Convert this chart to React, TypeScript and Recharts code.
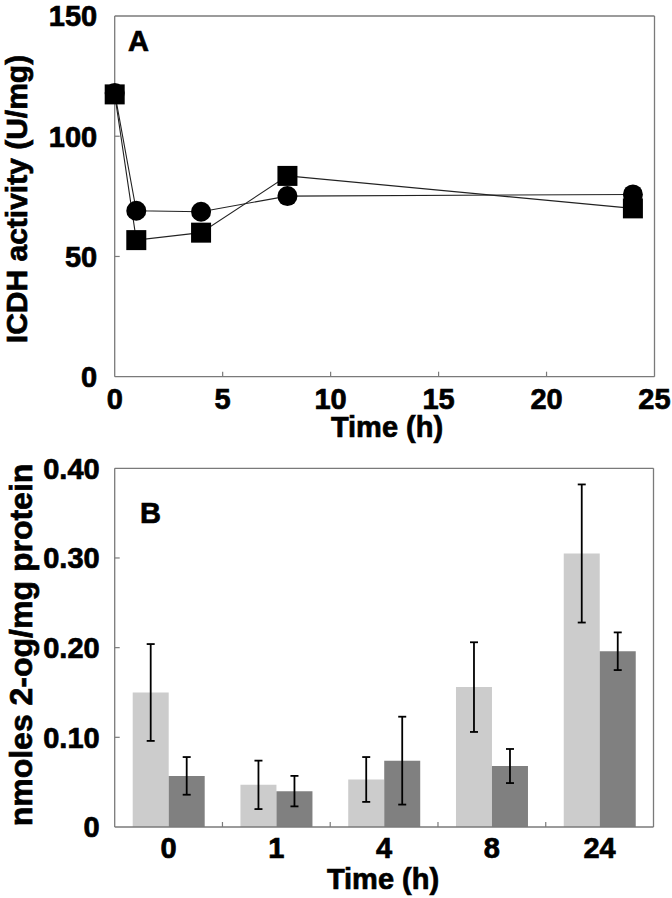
import React from 'react';
import { LineChart, Line, XAxis, YAxis, BarChart, Bar, ErrorBar, ReferenceLine } from 'recharts';

// ---------- Panel A data ----------
const timesA = [0, 1, 4, 8, 24];
const squareActivity = [117.4, 56.8, 59.9, 83.5, 70.0];
const circleActivity = [118.0, 69.0, 68.6, 75.1, 75.8];
const xTicksA = [0, 5, 10, 15, 20, 25];
const yTicksA = [0, 50, 100, 150];

// ---------- Panel B data ----------
const categoriesB = ['0', '1', '4', '8', '24'];
const lightValues = [0.150, 0.047, 0.053, 0.156, 0.305];
const lightErrors = [0.054, 0.027, 0.025, 0.050, 0.077];
const darkValues = [0.057, 0.040, 0.074, 0.068, 0.196];
const darkErrors = [0.021, 0.017, 0.049, 0.019, 0.021];
const yTicksB = [0, 0.1, 0.2, 0.3, 0.4];
const yTickLabelsB = ['0', '0.10', '0.20', '0.30', '0.40'];

const dataA = timesA.map((t, i) => ({ t, sq: squareActivity[i], ci: circleActivity[i] }));
const dataB = categoriesB.map((c, i) => ({
  cat: c,
  light: lightValues[i],
  lightErr: lightErrors[i],
  dark: darkValues[i],
  darkErr: darkErrors[i],
}));

const FONT = '"Liberation Sans", Arial, Helvetica, sans-serif';
const AXIS = '#7a7a7a';
const TICK_FS = 29;
const W = 672;

// layout A
const A_H = 450;
const A_MARGIN = { top: 16, right: 17.5, bottom: 0, left: 0 };
const A_YW = 114.7;
const A_XH = 73.3;
const A_XMARGIN = 11.5;
const A_YMARGIN = 17.5;

// layout B
const B_H = 448;
const B_MARGIN = { top: 18.3, right: 18.5, bottom: 0, left: 0 };
const B_YW = 114.7;
const B_XH = 71;
const B_XMARGIN = 10.5;
const B_YMARGIN = 15;
const B_BAND = (W - B_MARGIN.left - B_YW - B_MARGIN.right) / categoriesB.length;

const textStyle = {
  fontFamily: FONT,
  fontWeight: 700 as const,
  fill: '#000',
  stroke: '#000',
  strokeWidth: 0.7,
};

const SquareDot = (props: any) => {
  const { cx, cy } = props;
  if (cx == null || cy == null) return null;
  return <rect x={cx - 10} y={cy - 10} width={20} height={20} fill="#000" />;
};
const CircleDot = (props: any) => {
  const { cx, cy } = props;
  if (cx == null || cy == null) return null;
  return <circle cx={cx} cy={cy} r={10} fill="#000" />;
};

const XTickA = (props: any) => {
  const { x, y, payload } = props;
  const axisY = y - A_XMARGIN;
  const v = payload.value;
  return (
    <g>
      {v > 0 && v < 25 && <line x1={x} x2={x} y1={axisY} y2={axisY - 5} stroke={AXIS} strokeWidth={1.2} />}
      <text x={x} y={y} dy="0.71em" textAnchor="middle" fontSize={TICK_FS} style={textStyle}>
        {v}
      </text>
    </g>
  );
};

const YTickA = (props: any) => {
  const { x, y, payload } = props;
  const axisX = x + A_YMARGIN;
  const v = payload.value;
  return (
    <g>
      {v > 0 && v < 150 && <line x1={axisX} x2={axisX + 5} y1={y} y2={y} stroke={AXIS} strokeWidth={1.2} />}
      <text x={x} y={y} dy="0.355em" textAnchor="end" fontSize={TICK_FS} style={textStyle}>
        {v}
      </text>
    </g>
  );
};

const XTickB = (props: any) => {
  const { x, y, payload, index } = props;
  const axisY = y - B_XMARGIN;
  const bx = x + B_BAND / 2;
  return (
    <g>
      {index < categoriesB.length - 1 && (
        <line x1={bx} x2={bx} y1={axisY} y2={axisY - 5} stroke={AXIS} strokeWidth={1.2} />
      )}
      <text x={x} y={y} dy="0.71em" textAnchor="middle" fontSize={TICK_FS} style={textStyle}>
        {payload.value}
      </text>
    </g>
  );
};

const YTickB = (props: any) => {
  const { x, y, payload, index } = props;
  const axisX = x + B_YMARGIN;
  const v = payload.value;
  return (
    <g>
      {v > 0 && v < 0.4 && <line x1={axisX} x2={axisX + 5} y1={y} y2={y} stroke={AXIS} strokeWidth={1.2} />}
      <text x={x} y={y} dy="0.355em" textAnchor="end" fontSize={TICK_FS} style={textStyle}>
        {yTickLabelsB[yTicksB.indexOf(v)] ?? yTickLabelsB[index]}
      </text>
    </g>
  );
};

const axisLine = { stroke: AXIS, strokeWidth: 1.3 };

export default function App() {
  return (
    <div style={{ position: 'absolute', left: 0, top: 0, width: W, height: 898, background: '#fff' }}>
      <LineChart width={W} height={A_H} data={dataA} margin={A_MARGIN}>
        <XAxis
          dataKey="t"
          type="number"
          domain={[0, 25]}
          ticks={xTicksA}
          interval={0}
          height={A_XH}
          axisLine={axisLine}
          tickLine={false}
          tickSize={0}
          tickMargin={A_XMARGIN}
          tick={<XTickA />}
          label={{
            content: () => (
              <text x={387} y={437} textAnchor="middle" fontSize={29} style={textStyle}>
                Time (h)
              </text>
            ),
          }}
        />
        <YAxis
          type="number"
          domain={[0, 150]}
          ticks={yTicksA}
          interval={0}
          width={A_YW}
          axisLine={axisLine}
          tickLine={false}
          tickSize={0}
          tickMargin={A_YMARGIN}
          tick={<YTickA />}
          label={{
            content: () => (
              <text
                x={27}
                y={199}
                transform="rotate(-90 27 199)"
                textAnchor="middle"
                fontSize={30}
                style={textStyle}
              >
                ICDH activity (U/mg)
              </text>
            ),
          }}
        />
        <ReferenceLine
          y={150}
          stroke={AXIS}
          strokeWidth={1.3}
          label={{
            content: () => (
              <text x={128} y={51} textAnchor="start" fontSize={29} style={textStyle}>
                A
              </text>
            ),
          }}
        />
        <ReferenceLine x={25} stroke={AXIS} strokeWidth={1.3} />
        <Line
          dataKey="ci"
          stroke="#222"
          strokeWidth={1.1}
          dot={<CircleDot />}
          activeDot={false}
          isAnimationActive={false}
        />
        <Line
          dataKey="sq"
          stroke="#222"
          strokeWidth={1.1}
          dot={<SquareDot />}
          activeDot={false}
          isAnimationActive={false}
        />
      </LineChart>
      <BarChart width={W} height={B_H} data={dataB} margin={B_MARGIN} barGap={0} barSize={36}>
        <XAxis
          dataKey="cat"
          height={B_XH}
          axisLine={axisLine}
          tickLine={false}
          tickSize={0}
          tickMargin={B_XMARGIN}
          interval={0}
          tick={<XTickB />}
          label={{
            content: () => (
              <text x={383} y={439} textAnchor="middle" fontSize={29} style={textStyle}>
                Time (h)
              </text>
            ),
          }}
        />
        <YAxis
          type="number"
          domain={[0, 0.4]}
          ticks={yTicksB}
          interval={0}
          width={B_YW}
          axisLine={axisLine}
          tickLine={false}
          tickSize={0}
          tickMargin={B_YMARGIN}
          tick={<YTickB />}
          label={{
            content: () => (
              <text
                x={32}
                y={195}
                transform="rotate(-90 32 195)"
                textAnchor="middle"
                fontSize={32}
                style={textStyle}
              >
                nmoles 2-og/mg protein
              </text>
            ),
          }}
        />
        <Bar dataKey="light" fill="#cccccc" isAnimationActive={false}>
          <ErrorBar dataKey="lightErr" width={4} stroke="#000" strokeWidth={1.8} />
        </Bar>
        <Bar dataKey="dark" fill="#808080" isAnimationActive={false}>
          <ErrorBar dataKey="darkErr" width={4} stroke="#000" strokeWidth={1.8} />
        </Bar>
        <ReferenceLine
          y={0.4}
          stroke={AXIS}
          strokeWidth={1.3}
          label={{
            content: () => (
              <text x={140} y={73} textAnchor="start" fontSize={29} style={textStyle}>
                B
              </text>
            ),
          }}
        />
        <ReferenceLine x="24" position="end" stroke={AXIS} strokeWidth={1.3} />
      </BarChart>
    </div>
  );
}
